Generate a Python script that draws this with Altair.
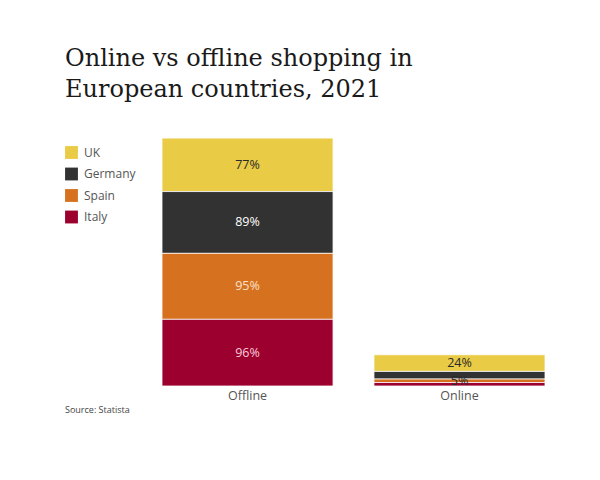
import altair as alt
import pandas as pd

channels = ["Offline"] * 4 + ["Online"] * 4
countries = ["UK", "Germany", "Spain", "Italy"] * 2
values = [77, 89, 95, 96, 24, 11, 5, 5]
stack_order = [3, 2, 1, 0, 3, 2, 1, 0]

country_domain = ["UK", "Germany", "Spain", "Italy"]
bar_colors = ["#E9CB45", "#323232", "#D5711F", "#9C002F"]
text_colors = ["#2a2a2a", "#ffffff", "#FBE3CC", "#F9CCDA"]

df = pd.DataFrame({"channel": channels, "country": countries,
                   "value": values, "ord": stack_order})

base = alt.Chart(df).transform_stack(
    stack="value", groupby=["channel"], sort=[alt.SortField("ord")], as_=["y0", "y1"]
).transform_calculate(mid="(datum.y0 + datum.y1) / 2",
                      label="datum.value + '%'")

xaxis = alt.Axis(title=None, labelAngle=0, ticks=False, domain=False, grid=False,
                 labelColor="#555555", labelFont="Open Sans", labelFontSize=12.5,
                 labelPadding=3)
xscale = alt.Scale(paddingInner=0.193, paddingOuter=0)
yscale = alt.Scale(domain=[0, 360])

bars = base.mark_bar(stroke="white", strokeWidth=0.8).encode(
    x=alt.X("channel:N", sort=["Offline", "Online"], scale=xscale, axis=xaxis),
    y=alt.Y("y0:Q", scale=yscale, axis=None),
    y2="y1:Q",
    color=alt.Color("country:N", scale=alt.Scale(domain=country_domain, range=bar_colors),
                    legend=alt.Legend(title=None, orient="none", legendX=-97, legendY=10,
                                      symbolType="square", symbolSize=165,
                                      symbolStrokeWidth=0, labelFont="Open Sans",
                                      labelFontSize=12, labelColor="#555555",
                                      rowPadding=8.5, labelOffset=6)),
)

labels = base.transform_filter(
    "datum.value >= 20 || (datum.channel == 'Online' && datum.country == 'Spain')"
).mark_text(font="Open Sans", fontSize=12.5, baseline="middle").encode(
    x=alt.X("channel:N", sort=["Offline", "Online"], scale=xscale, axis=xaxis),
    y=alt.Y("mid:Q", scale=yscale, axis=None),
    text="label:N",
    color=alt.condition("datum.channel == 'Online'", alt.value("#2a2a2a"),
                        alt.Color("country:N", scale=alt.Scale(domain=country_domain,
                                                               range=text_colors),
                                  legend=None)),
)

source = alt.Chart(pd.DataFrame({"t": ["Source: Statista"]})).mark_text(
    font="Open Sans", fontSize=9, color="#444444", align="left", baseline="middle"
).encode(x=alt.value(-97), y=alt.value(274), text="t:N")

chart = alt.layer(bars, labels, source).resolve_scale(color="independent").properties(
    width=383, height=250,
    background="white",
    title=alt.TitleParams(
        text=["Online vs offline shopping in", "European countries, 2021"],
        anchor="start", dx=0, offset=34, font="DejaVu Serif", fontSize=24,
        fontWeight="normal", color="#1a1a1a", lineHeight=31,
    ),
    padding={"left": 162, "top": 136, "right": 55, "bottom": 94},
    autosize=alt.AutoSizeParams(type="none"),
).configure_view(stroke=None)

chart.save("out.html", embed_options={"renderer": "svg", "actions": False})
